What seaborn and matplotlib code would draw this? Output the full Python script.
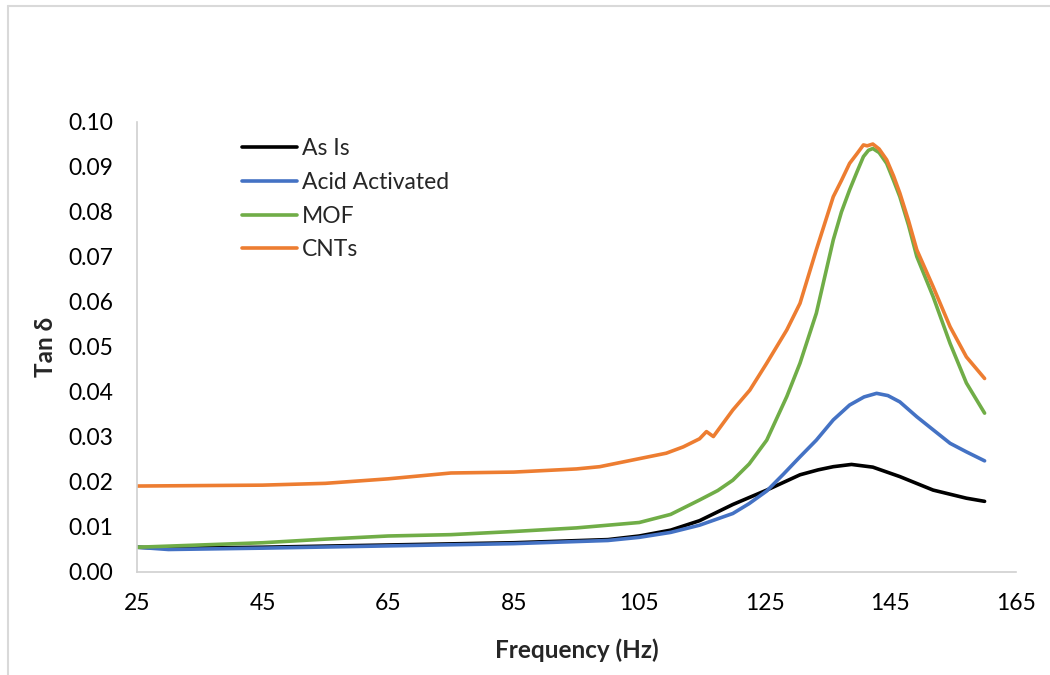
import numpy as np
import pandas as pd
import matplotlib
matplotlib.use("Agg")
import matplotlib.pyplot as plt
from matplotlib.lines import Line2D
import seaborn as sns

# ---- data ----
as_is_freq = [25, 30, 45, 65, 85, 100, 105, 110, 114.6, 119.9, 125.3, 130.6, 133.5, 135.9, 138.8, 142.2, 146.5, 151.8, 157.1, 160]
as_is_tan = [0.0055, 0.0053, 0.0055, 0.0060, 0.0065, 0.0072, 0.0080, 0.0093, 0.0114, 0.0150, 0.0182, 0.0216, 0.0227, 0.0234, 0.0239, 0.0233, 0.0212, 0.0182, 0.0164, 0.0157]

acid_freq = [25, 30, 45, 65, 85, 100, 105, 110, 114.6, 119.9, 122.5, 125.3, 128, 130.6, 133.2, 135.9, 138.5, 140.8, 142.8, 144.6, 146.5, 149.2, 151.8, 154.5, 157.1, 160]
acid_tan = [0.0055, 0.0050, 0.0053, 0.0058, 0.0063, 0.0070, 0.0077, 0.0088, 0.0104, 0.0130, 0.0152, 0.0180, 0.0218, 0.0256, 0.0293, 0.0338, 0.0371, 0.0389, 0.0397, 0.0392, 0.0378, 0.0345, 0.0316, 0.0286, 0.0267, 0.0247]

mof_freq = [25, 35, 45, 55, 65, 75, 85, 95, 105, 110, 114.6, 117.5, 119.9, 122.5, 125.3, 128.5, 130.6, 133.2, 135.9, 137.2, 138.5, 139.7, 140.7, 141.5, 142.2, 143.2, 144.4, 145.5, 146.5, 147.9, 149.2, 151.8, 154.5, 157.1, 160]
mof_tan = [0.0055, 0.0060, 0.0065, 0.0073, 0.0080, 0.0083, 0.0090, 0.0098, 0.0110, 0.0128, 0.0160, 0.0181, 0.0204, 0.0240, 0.0293, 0.0390, 0.0464, 0.0575, 0.0738, 0.0800, 0.0849, 0.0890, 0.0923, 0.0937, 0.0941, 0.0932, 0.0908, 0.0870, 0.0834, 0.0770, 0.0701, 0.0612, 0.0508, 0.0420, 0.0353]

cnt_freq = [25, 45, 55, 65, 75, 85, 95, 98.7, 104, 109.3, 112, 114.6, 115.7, 116.8, 119.9, 122.6, 125.3, 128.5, 130.6, 133.2, 135.9, 137.2, 138.5, 139.7, 140.7, 141.3, 142.2, 143.2, 144.4, 145.5, 146.5, 147.9, 149.2, 151.8, 154.5, 157.1, 160]
cnt_tan = [0.0191, 0.0193, 0.0197, 0.0207, 0.0220, 0.0222, 0.0229, 0.0234, 0.0249, 0.0264, 0.0278, 0.0296, 0.0312, 0.0301, 0.0360, 0.0404, 0.0464, 0.0538, 0.0597, 0.0716, 0.0834, 0.0870, 0.0908, 0.0930, 0.0949, 0.0947, 0.0951, 0.0940, 0.0916, 0.0880, 0.0842, 0.0780, 0.0716, 0.0634, 0.0545, 0.0478, 0.0430]

series_names = ["As Is", "Acid Activated", "MOF", "CNTs"]
colors = ["#000000", "#4472C4", "#70AD47", "#ED7D31"]
x_ticks = [25, 45, 65, 85, 105, 125, 145, 165]
y_ticks = [0.00, 0.01, 0.02, 0.03, 0.04, 0.05, 0.06, 0.07, 0.08, 0.09, 0.10]

frames = []
for name, f, t in zip(series_names,
                      [as_is_freq, acid_freq, mof_freq, cnt_freq],
                      [as_is_tan, acid_tan, mof_tan, cnt_tan]):
    frames.append(pd.DataFrame({"Frequency": f, "Tan": t, "Series": name}))
df = pd.concat(frames, ignore_index=True)

sns.set_style("white")
plt.rcParams['font.family'] = ['Lato', 'DejaVu Sans']

fig = plt.figure(figsize=(10.5, 6.75), dpi=100)
ax = fig.add_axes([0.1305, 0.1526, 0.8371, 0.6667])

sns.lineplot(data=df, x="Frequency", y="Tan", hue="Series",
             hue_order=series_names, palette=colors, linewidth=2.6,
             sort=False, estimator=None, ax=ax, legend=False)

ax.set_xlim(25, 165)
ax.set_ylim(0, 0.10)
ax.set_xticks(x_ticks)
ax.set_yticks(y_ticks)
ax.set_yticklabels([f"{v:.2f}" for v in y_ticks])
ax.tick_params(axis="both", length=0, labelsize=16.5, colors="#000000")
ax.tick_params(axis="x", pad=15)
ax.tick_params(axis="y", pad=17)

for s in ["top", "right"]:
    ax.spines[s].set_visible(False)
for s in ["left", "bottom"]:
    ax.spines[s].set_color("#d0d0d0")
    ax.spines[s].set_linewidth(1.2)

ax.set_xlabel("Frequency (Hz)", fontsize=17.5, fontweight="bold", labelpad=18)
ax.set_ylabel("Tan δ", fontsize=17.5, fontweight="bold", labelpad=8)

handles = [Line2D([0], [0], color=c, lw=2.6) for c in colors]
leg = ax.legend(handles, series_names, loc="upper left",
                bbox_to_anchor=(0.104, 0.995), frameon=False,
                fontsize=16.5, handlelength=2.4, handletextpad=0.2,
                labelspacing=0.56, borderaxespad=0.2)

# outer chart border (top and left visible)
fig.add_artist(Line2D([8/1050, 1.0], [1 - 6/675, 1 - 6/675],
                      transform=fig.transFigure, color="#d9d9d9", lw=1.5))
fig.add_artist(Line2D([8/1050, 8/1050], [0.0, 1 - 6/675],
                      transform=fig.transFigure, color="#d9d9d9", lw=1.5))

fig.savefig("out.png", dpi=100)
